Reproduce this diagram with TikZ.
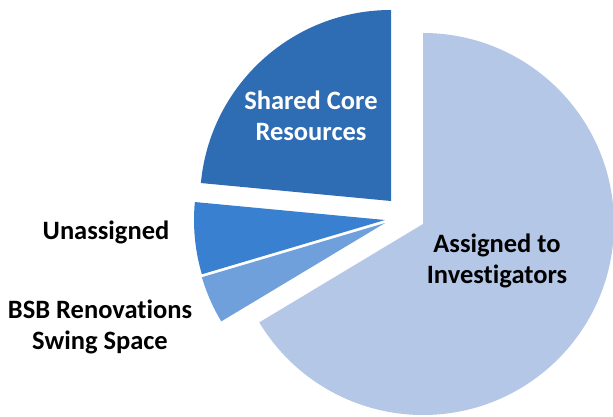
\documentclass[tikz,border=0pt]{standalone}
\usepackage{fontspec}
\setmainfont{Carlito}[RawFeature={-liga;-dlig}]
\definecolor{cbig}{HTML}{B4C7E7}
\definecolor{cshared}{HTML}{2E6DB4}
\definecolor{cunas}{HTML}{3A80D0}
\definecolor{cbsb}{HTML}{6FA0DC}
\tikzset{
  lbl/.style={font=\fontsize{26.5}{31}\selectfont\bfseries, align=center, inner sep=0pt},
}
\begin{document}
\begin{tikzpicture}[x=1pt,y=1pt]
\useasboundingbox (0,0) rectangle (613,416);
\def\R{191}
\coordinate (abig) at (423,192);
\coordinate (ashared) at (391,215);
\coordinate (aunas) at (385,196);
\coordinate (absb) at (385,193);
\begin{scope}
\clip (0,0) rectangle (613,416);
\fill[cbig] (abig) -- ++(90:\R) arc[start angle=90, end angle=-149, radius=\R] -- cycle;
\fill[cshared] (ashared) -- ++(90:\R) arc[start angle=90, end angle=174.6, radius=\R] -- cycle;
\fill[cunas] (aunas) -- ++(174.6:\R) arc[start angle=174.6, end angle=196.5, radius=\R] -- cycle;
\fill[cbsb] (absb) -- ++(196.5:\R) arc[start angle=196.5, end angle=211, radius=\R] -- cycle;
\end{scope}
\node[lbl, text=white] (tshared) at (311,300) {Shared Core\\Resources};
\node[lbl] (tbig) at (497,155) {Assigned to\\Investigators};
\node[lbl] (tunas) at (106,184) {Unassigned};
\node[lbl] (tbsb) at (100,89) {BSB Renovations\\Swing Space};
\end{tikzpicture}
\end{document}
